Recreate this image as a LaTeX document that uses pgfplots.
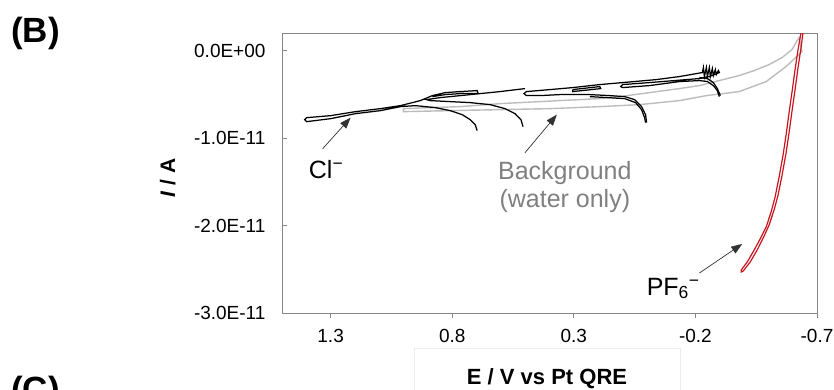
\documentclass[border=0pt]{standalone}
\usepackage{fontspec}
\setmainfont{Liberation Sans}
\usepackage{pgfplots}
\pgfplotsset{compat=1.18}
\usetikzlibrary{arrows.meta}

\definecolor{frame}{RGB}{134,134,134}
\definecolor{bggray}{RGB}{188,188,188}
\definecolor{bgtext}{RGB}{128,128,128}
\definecolor{pfred}{RGB}{200,20,30}
\definecolor{arrowc}{RGB}{50,50,50}

\begin{document}
\begin{tikzpicture}
\useasboundingbox (0,0) rectangle (834bp,-390bp);
% currents are given in units of 1e-11 A
\begin{axis}[
  at={(282bp,-313bp)}, anchor=south west,
  scale only axis, width=535bp, height=280bp,
  x dir=reverse, xmin=-0.7, xmax=1.5, ymin=-3, ymax=0.2,
  axis line style={draw=frame, line width=0.8bp},
  tick style={draw=frame, line width=0.8bp},
  major tick length=5bp,
  tick align=inside, tick pos=left,
  xtick={1.3,0.8,0.3,-0.2,-0.7},
  xticklabels={1.3,0.8,0.3,-0.2,-0.7},
  ytick={0,-1,-2,-3},
  yticklabels={0.0E+00,-1.0E-11,-2.0E-11,-3.0E-11},
  xtick style={yshift=-5bp},
  ticklabel style={font=\fontsize{19bp}{22bp}\selectfont},
  xticklabel style={yshift=-13bp},
  yticklabel style={xshift=-13bp},
]

% background: water only
\addplot[bggray, line width=1.4bp] table[header=false] {
1.0008 -0.6644
0.8902 -0.6529
0.7672 -0.6415
0.6033 -0.6071
0.4394 -0.5842
0.2754 -0.5613
0.1934 -0.5498
0.1115 -0.5269
-0.0115 -0.4811
-0.1344 -0.4353
-0.2164 -0.4009
-0.2984 -0.3436
-0.3803 -0.2864
-0.4418 -0.2291
-0.5033 -0.1604
-0.5566 -0.0802
-0.5975 0.0115
-0.6262 0.1489
-0.6385 -0.0115
-0.5730 -0.1833
-0.4910 -0.3551
-0.3803 -0.4696
-0.2451 -0.5155
-0.1344 -0.5727
0.0295 -0.6186
0.1934 -0.6415
0.3984 -0.6644
0.6033 -0.6758
0.8082 -0.6873
1.0008 -0.6987
1.0008 -0.6644
};

% chloride scans
\addplot[black, line width=1.25bp] table[header=false] {
0.6975 -0.9164
0.7057 -0.8477
0.7262 -0.7904
0.7590 -0.7331
0.8082 -0.6873
0.8697 -0.6529
0.9516 -0.6300
1.0131 -0.6415
1.0951 -0.6873
1.1975 -0.7216
1.3000 -0.7789
1.3984 -0.8133
1.4066 -0.7904
1.3984 -0.7675
1.3000 -0.7446
1.1975 -0.6987
1.0951 -0.6644
1.0131 -0.6300
0.9311 -0.5727
0.8820 -0.5155
0.8287 -0.4811
0.7672 -0.4696
0.6975 -0.4582
0.6934 -0.4926
0.7672 -0.4926
0.8287 -0.5040
0.8820 -0.5269
};
\addplot[black, line width=1.25bp] table[header=false] {
0.5090 -0.8706
0.5172 -0.7904
0.5418 -0.7216
0.5828 -0.6644
0.6443 -0.6186
0.7262 -0.5956
0.8082 -0.5842
0.8902 -0.5727
0.9066 -0.5613
0.8492 -0.5384
0.7672 -0.5155
0.6852 -0.4926
0.6033 -0.4696
0.5008 -0.4353
};
\addplot[black, line width=1.25bp] table[header=false] {
0.0008 -0.8247
0.0049 -0.7331
0.0213 -0.6415
0.0500 -0.5613
0.0910 -0.5269
0.1525 -0.5155
0.2344 -0.5040
0.3574 -0.5040
0.4394 -0.5155
0.4951 -0.5155
0.5049 -0.4926
0.4951 -0.4696
0.3984 -0.4467
0.3041 -0.4238
0.1934 -0.3895
0.0992 -0.3666
-0.0402 -0.3322
-0.1344 -0.2978
-0.2287 -0.2520
-0.2328 -0.1947
-0.2369 -0.2978
-0.2451 -0.1947
-0.2492 -0.2978
-0.2574 -0.1947
-0.2615 -0.2978
-0.2697 -0.2062
-0.2738 -0.2864
-0.2820 -0.2176
-0.2861 -0.2749
-0.2943 -0.2291
-0.2984 -0.2520
-0.2574 -0.2978
-0.2164 -0.3207
-0.1139 -0.3436
-0.0115 -0.3666
0.0992 -0.3895
0.1074 -0.4124
0.0992 -0.4238
-0.0115 -0.4009
-0.1344 -0.3551
-0.2164 -0.3436
-0.2492 -0.3551
-0.2738 -0.4009
-0.2902 -0.4582
-0.2984 -0.5269
};
\addplot[black, line width=1.25bp] table[header=false] {
-0.2164 -0.3093
-0.2492 -0.3207
-0.2738 -0.3666
-0.2902 -0.4353
-0.3025 -0.5155
};
\addplot[black, line width=1.25bp] table[header=false] {
0.2344 -0.5269
0.0910 -0.5498
0.0459 -0.5956
0.0213 -0.6758
0.0090 -0.7675
0.0049 -0.8247
};
\addplot[black, line width=1.25bp] table[header=false] {
0.3041 -0.4467
0.1934 -0.4124
0.1893 -0.4353
0.3041 -0.4696
0.3041 -0.4467
};

% hexafluorophosphate scan
\addplot[pfred, line width=1.2bp] table[header=false] {
-0.6344 0.2062
-0.6221 0.0115
-0.6098 -0.2176
-0.5975 -0.4696
-0.5852 -0.7102
-0.5730 -0.9622
-0.5607 -1.1913
-0.5443 -1.4433
-0.5279 -1.6724
-0.5115 -1.8442
-0.4910 -2.0160
-0.4705 -2.1306
-0.4418 -2.2795
-0.4131 -2.4170
-0.3885 -2.5086
-0.3885 -2.5315
-0.3967 -2.5200
-0.4254 -2.4170
-0.4541 -2.2795
-0.4828 -2.1191
-0.5033 -1.9931
-0.5238 -1.8213
-0.5402 -1.6495
-0.5566 -1.4204
-0.5730 -1.1684
-0.5852 -0.9393
-0.5975 -0.6873
-0.6098 -0.4467
-0.6221 -0.1947
-0.6344 0.0344
-0.6426 0.2062
};

% annotations
\draw[arrowc, line width=0.7bp, -{Triangle[length=11bp,width=8bp]}]
  (axis cs:1.3328,-1.1226) -- (axis cs:1.2180,-0.7675);
\draw[arrowc, line width=0.7bp, -{Triangle[length=11bp,width=8bp]}]
  (axis cs:0.5008,-1.1684) -- (axis cs:0.3697,-0.7331);
\draw[arrowc, line width=0.7bp, -{Triangle[length=11bp,width=8bp]}]
  (axis cs:-0.2164,-2.5430) -- (axis cs:-0.3926,-2.2108);

\node[anchor=base west, inner sep=0pt, font=\fontsize{25bp}{30bp}\selectfont]
  at (axis cs:1.3902,-1.4662) {Cl\textsuperscript{−}};
\node[anchor=base, inner sep=0pt, text=bgtext, font=\fontsize{25bp}{30bp}\selectfont]
  at (axis cs:0.3369,-1.4777) {Background};
\node[anchor=base, inner sep=0pt, text=bgtext, font=\fontsize{25bp}{30bp}\selectfont]
  at (axis cs:0.3369,-1.7984) {(water only)};
\node[anchor=base west, inner sep=0pt, font=\fontsize{25bp}{30bp}\selectfont]
  at (axis cs:0.0008,-2.7950) {PF\textsubscript{6}\textsuperscript{−}};
\end{axis}

% axis titles and panel letters
\node[rotate=90, anchor=base, inner sep=0pt, font=\fontsize{21bp}{25bp}\selectfont\bfseries]
  at (175bp,-178bp) {\textit{I} / A};
\draw[black!7, line width=0.8bp] (414bp,-390bp) -- (414bp,-348bp) -- (680bp,-348bp) -- (680bp,-390bp);
\node[anchor=base, inner sep=0pt, font=\fontsize{22bp}{26bp}\selectfont\bfseries]
  at (547bp,-384bp) {E / V vs Pt QRE};
\node[anchor=base west, inner sep=0pt, font=\fontsize{35bp}{40bp}\selectfont\bfseries]
  at (11bp,-42bp) {(B)};
\node[anchor=base west, inner sep=0pt, font=\fontsize{35bp}{40bp}\selectfont\bfseries]
  at (11bp,-401bp) {(C)};
\end{tikzpicture}
\end{document}
